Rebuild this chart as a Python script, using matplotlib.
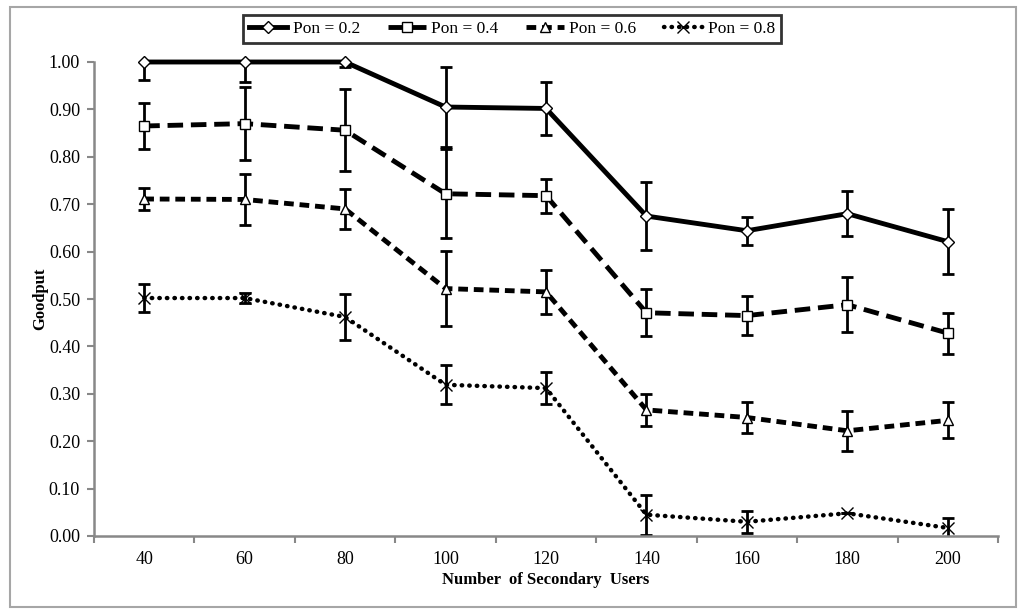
import numpy as np
import matplotlib.pyplot as plt
from matplotlib.patches import Rectangle

users = [40, 60, 80, 100, 120, 140, 160, 180, 200]

g02 = [1.00, 1.00, 1.00, 0.905, 0.902, 0.675, 0.644, 0.680, 0.621]
e02 = [0.038, 0.042, 0.010, 0.085, 0.055, 0.072, 0.030, 0.047, 0.068]
g04 = [0.865, 0.870, 0.856, 0.722, 0.718, 0.471, 0.465, 0.488, 0.428]
e04 = [0.048, 0.077, 0.086, 0.094, 0.036, 0.050, 0.041, 0.058, 0.043]
g06 = [0.711, 0.710, 0.690, 0.522, 0.515, 0.266, 0.250, 0.222, 0.244]
e06 = [0.023, 0.054, 0.042, 0.080, 0.047, 0.034, 0.033, 0.042, 0.038]
g08 = [0.502, 0.502, 0.462, 0.319, 0.312, 0.045, 0.030, 0.048, 0.017]
e08 = [0.029, 0.010, 0.049, 0.041, 0.034, 0.042, 0.023, 0.000, 0.021]

labels = ['Pon = 0.2', 'Pon = 0.4', 'Pon = 0.6', 'Pon = 0.8']

plt.rcParams['font.family'] = 'Liberation Serif'

fig = plt.figure(figsize=(10.24, 6.13), dpi=100)
fig.patches.append(Rectangle((10/1024, 1 - 607/613), 1006/1024, 600/613,
                             transform=fig.transFigure, fill=False,
                             edgecolor='#a6a6a6', linewidth=1.5))
ax = fig.add_axes([94/1024, 1 - 536/613, 904/1024, 474/613])

x = np.arange(1, len(users) + 1)
series = [
    (g02, e02, '-', 'D', 6),
    (g04, e04, (0, (3.2, 1.6)), 's', 7),
    (g06, e06, (0, (2.0, 1.2)), '^', 7),
    (g08, e08, (0, (0.1, 1.6)), 'x', 8),
]
for (g, e, ls, mk, ms), lab in zip(series, labels):
    # error bars are cut at the axis limits, like in the original chart
    ax.errorbar(x, g, yerr=e, fmt='none', ecolor='black', elinewidth=2,
                capsize=4, capthick=2, zorder=2)
    lw = 3.5 if mk != 'x' else 3.2
    cap = 'round' if mk == 'x' else 'butt'
    ax.plot(x, g, linestyle=ls, color='black', linewidth=lw,
            dash_capstyle=cap, marker=mk, markersize=ms,
            markerfacecolor='white', markeredgecolor='black',
            markeredgewidth=1, label=lab, zorder=3, clip_on=False)

ax.set_xlim(0.5, len(users) + 0.5)
ax.set_ylim(0, 1.0)
ax.set_yticks(np.arange(0, 1.01, 0.1))
ax.set_yticklabels([f'{v:.2f}' for v in np.arange(0, 1.01, 0.1)])
ax.set_xticks(x)
ax.set_xticklabels([str(u) for u in users])
ax.set_xticks(np.arange(0.5, len(users) + 1, 1), minor=True)
ax.tick_params(axis='x', which='major', length=0, labelsize=13, pad=11)
ax.tick_params(axis='x', which='minor', length=5, width=1.5, color='#888888')
ax.tick_params(axis='y', length=5, width=1.5, color='#888888', labelsize=13, pad=5)

for s in ['top', 'right']:
    ax.spines[s].set_visible(False)
for s in ['left', 'bottom']:
    ax.spines[s].set_color('#888888')
    ax.spines[s].set_linewidth(1.8)

ax.set_xlabel('Number  of Secondary  Users', fontsize=12, fontweight='bold', labelpad=3)
ax.set_ylabel('Goodput', fontsize=12, fontweight='bold')
ax.yaxis.set_label_coords(-46/904, 0.5)

leg = fig.legend(loc='center', bbox_to_anchor=(512/1024, 1 - 29/613), ncol=4,
                 fontsize=12.5, frameon=True, fancybox=False, edgecolor='black',
                 handlelength=2.2, columnspacing=1.6, borderpad=0.35,
                 handletextpad=0.3, borderaxespad=0)
leg.get_frame().set_linewidth(2)

fig.savefig('out.png', dpi=100)
